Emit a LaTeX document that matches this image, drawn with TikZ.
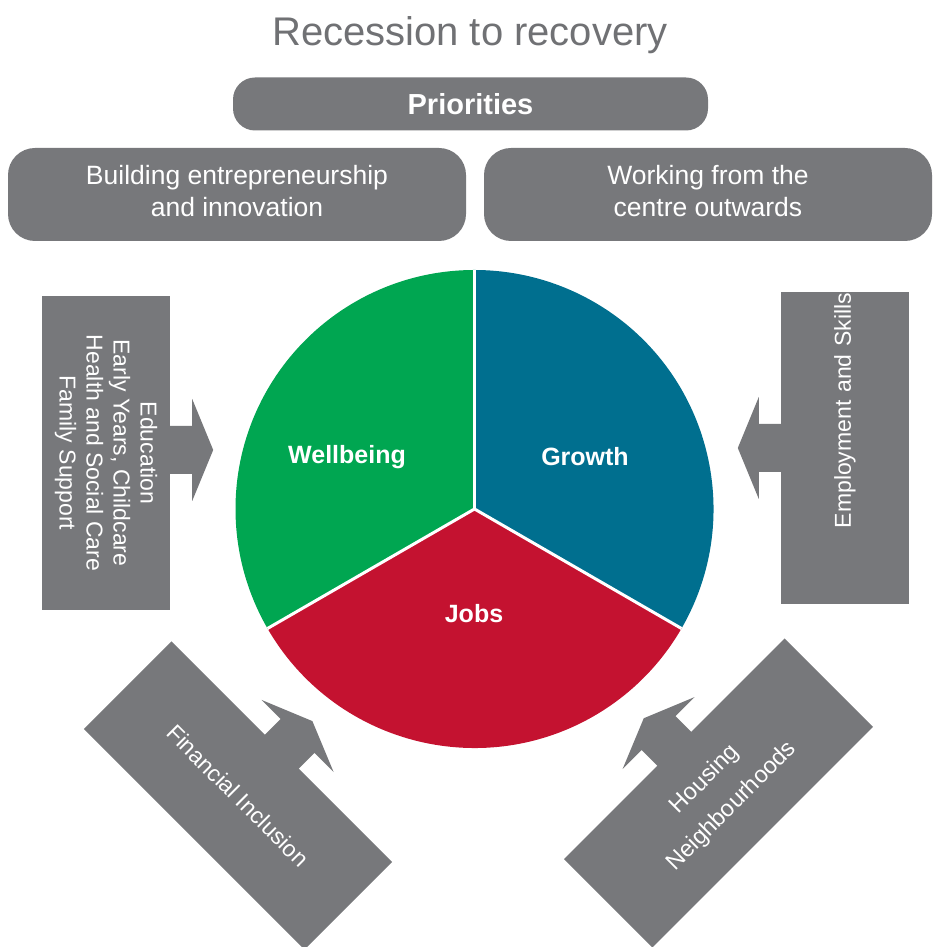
\documentclass[tikz,border=0pt]{standalone}
\usepackage{fontspec}
\setmainfont{Liberation Sans}
\definecolor{panelgray}{RGB}{119,120,123}
\definecolor{titlegray}{RGB}{112,113,116}
\definecolor{wellgreen}{RGB}{0,166,81}
\definecolor{growthteal}{RGB}{0,111,143}
\definecolor{jobsred}{RGB}{196,18,48}

\begin{document}
\begin{tikzpicture}[x=1pt, y=1pt,
      pill/.style={fill=panelgray, text=white, align=center, inner sep=0pt},
      panel/.style={fill=panelgray, text=white, align=center, inner sep=0pt,
                    font=\fontsize{23}{27}\selectfont},
      sector/.style={text=white, font=\bfseries\fontsize{25}{30}\selectfont},
      feed/.pic={\fill[panelgray] (-1,-24) -- (22,-24) -- (22,-51) -- (43,0)
                 -- (22,51) -- (22,24) -- (-1,24) -- cycle;}]
    \useasboundingbox (0,0) rectangle (933,947);
    \node[text=titlegray, font=\fontsize{40}{48}\selectfont] (title) at (470,912) {Recession to recovery};

    \node[pill, minimum width=475, minimum height=53, rounded corners=22,
          font=\bfseries\fontsize{29}{34}\selectfont] (prio) at (470.5,843) {Priorities};
    \node[pill, minimum width=458, minimum height=93, rounded corners=27, text depth=7pt,
          font=\fontsize{26.5}{32}\selectfont] (enterprise) at (237,752.5)
          {Building entrepreneurship\\and innovation};
    \node[pill, minimum width=448, minimum height=93, rounded corners=27, text depth=7pt,
          font=\fontsize{26.5}{32}\selectfont] (centre) at (708,752.5)
          {Working from the\\centre outwards};

    \coordinate (c) at (474.5,438);
    \fill[wellgreen]  (c) -- ++(90:239)  arc[start angle=90,  end angle=210, radius=239] -- cycle;
    \fill[growthteal] (c) -- ++(-30:239) arc[start angle=-30, end angle=90,  radius=239] -- cycle;
    \fill[jobsred]    (c) -- ++(210:239) arc[start angle=210, end angle=330, radius=239] -- cycle;
    \foreach \a in {90,210,330}
      \draw[white, line width=3pt] (c) -- ++(\a:239);
    \node[sector] (well)   at (347,490) {Wellbeing};
    \node[sector] (growth) at (585,490) {Growth};
    \node[sector] (jobs)   at (474,333) {Jobs};

    \node[panel, rotate=-90, minimum width=314, minimum height=128] (care) at (106,494)
          {Education\\Early Years, Childcare\\Health and Social Care\\Family Support};
    \node[panel, rotate=90, minimum width=312, minimum height=128, text width=310,
          align=right] (skills) at (845,499) {Employment and Skills};
    \node[panel, rotate=-45, minimum width=312, minimum height=124] (fin) at (238,151.5)
          {Financial Inclusion};
    \node[panel, rotate=45, minimum width=312, minimum height=125,
          font=\fontsize{23.5}{38}\selectfont] (house) at (718.5,154)
          {Housing\\Neighbourhoods};

    \pic[rotate=0]   at ([yshift=3pt]care.north) {feed};
    \pic[rotate=180] at (skills.north) {feed};
    \pic[rotate=45]  at (fin.north)    {feed};
    \pic[rotate=135] at (house.north)  {feed};
  \end{tikzpicture}
\end{document}
